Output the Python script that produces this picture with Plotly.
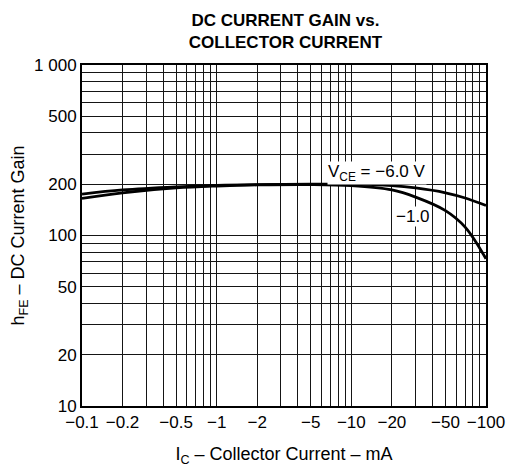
import numpy as np
import plotly.graph_objects as go

# Data (magnitudes of collector current, mA)
ic = [0.1, 0.2, 0.5, 1, 2, 5, 10, 20, 30, 50, 70, 100]
hfe_6v = [175, 185, 193, 197, 199, 200, 200, 196, 190, 178, 166, 150]
hfe_1v = [165, 178, 190, 195, 198, 199, 196, 185, 168, 140, 112, 73]

x_tickvals = [0.1, 0.2, 0.5, 1, 2, 5, 10, 20, 50, 100]
x_ticktext = ["−0.1", "−0.2", "−0.5", "−1", "−2", "−5", "−10", "−20", "−50", "−100"]
y_tickvals = [10, 20, 50, 100, 200, 500, 1000]
y_ticktext = ["10", "20", "50", "100", "200", "500", "1 000"]

x_grid = [m * d for d in (0.1, 1, 10) for m in range(1, 10)] + [100]
y_grid = [m * d for d in (10, 100) for m in range(1, 10)] + [1000]

FONT = "Liberation Sans, Arial, sans-serif"

fig = go.Figure()
fig.add_trace(go.Scatter(x=ic, y=hfe_6v, mode="lines", line=dict(color="black", width=2.8, shape="spline"),
                         showlegend=False, hoverinfo="skip"))
fig.add_trace(go.Scatter(x=ic, y=hfe_1v, mode="lines", line=dict(color="black", width=2.8, shape="spline"),
                         showlegend=False, hoverinfo="skip"))

fig.add_annotation(x=np.log10(15.5), y=np.log10(232), text="V<sub>CE</sub> = −6.0 V", showarrow=False,
                   font=dict(size=17, color="black", family=FONT), bgcolor="white", borderpad=0)
fig.add_annotation(x=np.log10(28.5), y=np.log10(130), text="−1.0", showarrow=False,
                   font=dict(size=17, color="black", family=FONT), bgcolor="white", borderpad=0)

axis_common = dict(type="log", showline=True, linecolor="black", linewidth=2, mirror=True,
                   showgrid=False, zeroline=False, ticks="", automargin=False,
                   tickfont=dict(size=17, color="black", family=FONT))

fig.update_xaxes(**axis_common, range=[-1, 2], tickmode="array", tickvals=x_tickvals, ticktext=x_ticktext,
                 minor=dict(tickmode="array", tickvals=x_grid, showgrid=True, gridcolor="#151515", gridwidth=1.2, ticks=""),
                 title=dict(text="I<sub>C</sub> – Collector Current – mA", font=dict(size=18, color="black", family=FONT),
                            standoff=16))
fig.update_yaxes(**axis_common, range=[1, 3], tickmode="array", tickvals=y_tickvals, ticktext=y_ticktext,
                 minor=dict(tickmode="array", tickvals=y_grid, showgrid=True, gridcolor="#151515", gridwidth=1.2, ticks=""),
                 title=dict(text="h<sub>FE</sub> – DC Current Gain", font=dict(size=18, color="black", family=FONT),
                            standoff=6))

fig.update_layout(
    width=509, height=459,
    margin=dict(l=74, r=31, t=57, b=61),
    paper_bgcolor="white", plot_bgcolor="white",
    title=dict(text="<b>DC CURRENT GAIN vs.<br>COLLECTOR CURRENT</b>", x=0.545, xanchor="center",
               y=0.96, yanchor="top", font=dict(size=17, color="black", family=FONT)),
)

fig.write_html("out.html")
